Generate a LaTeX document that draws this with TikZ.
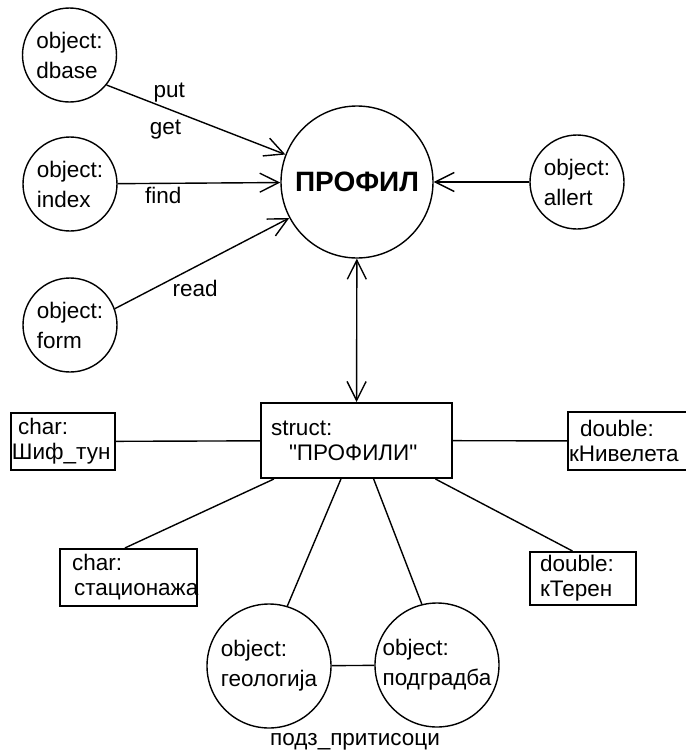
\documentclass[tikz,border=0pt]{standalone}
\usepackage{fontspec}
\setmainfont{Liberation Sans}
\usetikzlibrary{arrows.meta}
\begin{document}
\begin{tikzpicture}[x=1pt,y=-1pt,
    >={Straight Barb[length=19pt,width=19pt]},
    obj/.style={draw,circle,line width=1.4pt,inner sep=0pt,minimum size=94pt,align=left,font=\fontsize{22.5}{30}\selectfont},
    field/.style={draw,rectangle,line width=2pt,inner ysep=0pt,align=left,font=\fontsize{22.5}{25}\selectfont},
    link/.style={line width=1.4pt},
    lbl/.style={inner sep=1pt,font=\fontsize{22.5}{25}\selectfont}]
    \useasboundingbox (0,0) rectangle (686,753);
    \node[obj] (dbase) at (69.5,55) {object:\\dbase};
    \node[obj] (index) at (70,184) {object:\\index};
    \node[obj] (form) at (70,325) {object:\\form};
    \node[obj] (allert) at (577,182) {object:\\allert};
    \node[obj,minimum size=152pt,font=\fontsize{28}{30}\selectfont\bfseries] (profil) at (357,182) {ПРОФИЛ};
    \node[field,text width=171pt,inner xsep=10pt,minimum height=75pt] (struct) at (356.5,440.5) {struct:\\\hspace*{18pt}\textquotedbl ПРОФИЛИ\textquotedbl};
    \node[field,text width=102pt,inner xsep=1pt,minimum height=57pt] (shif) at (63,441.5) {\hspace*{6pt}char:\\Шиф\_тун};
    \node[field,text width=118pt,inner xsep=1pt,minimum height=58pt] (niv) at (628,441) {\hspace*{11pt}double:\\кНивелета};
    \node[field,text width=113pt,inner xsep=12pt,minimum height=57pt] (stac) at (128.5,577.5) {char:\\\hspace*{2pt}стационажа};
    \node[field,text width=86pt,inner xsep=10pt,minimum height=53pt] (teren) at (583,578.5) {double:\\кТерен};
    \node[obj,minimum size=124pt] (geo) at (269,666) {object:\\геологија};
    \node[obj,minimum size=124pt] (podg) at (437,665) {object:\\подградба};
    \node[lbl] (pritisoci) at (355,742) {подз\_притисоци};
    \draw[link,->] (dbase.-39) -- node[lbl,pos=0.35,above=5pt] {put} node[lbl,pos=0.33,below=10pt] {get} (profil.159);
    \draw[link,->] (index) -- node[lbl,pos=0.28,below=2pt] {find} (profil);
    \draw[link,->] (form.20) -- node[lbl,pos=0.46,below=12pt] {read} (profil.208);
    \draw[link,->] (allert) -- (profil);
    \draw[link,<->] (profil) -- (struct);
    \draw[link] (shif) -- (struct);
    \draw[link] (struct) -- (niv);
    \draw[link] (struct.205) -- (stac.97);
    \draw[link] (struct.-112.5) -- (geo.73);
    \draw[link] (struct.-66) -- (podg.104);
    \draw[link] (struct.-26.4) -- (teren.111);
    \draw[link] (geo) -- (podg);
\end{tikzpicture}
\end{document}
